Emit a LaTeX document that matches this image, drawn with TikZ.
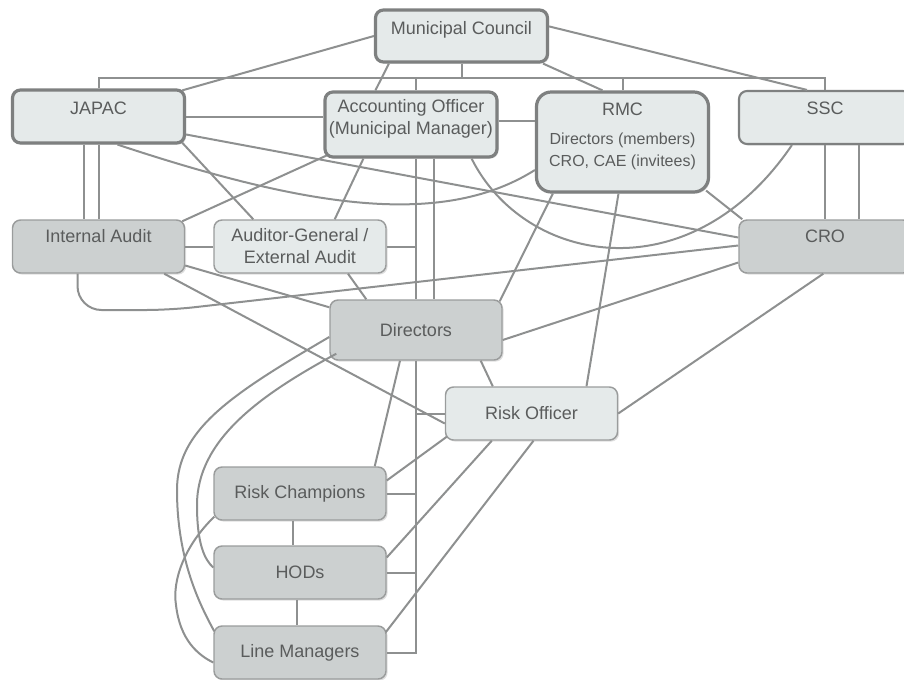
\documentclass[tikz,border=0pt]{standalone}
\usepackage{fontspec}
\setmainfont{Liberation Sans}
\usetikzlibrary{calc,shadows}
\definecolor{boxlight}{HTML}{E5EAEA}
\definecolor{boxdark}{HTML}{CCD0D0}
\definecolor{rimgray}{HTML}{9A9C9C}
\definecolor{heavygray}{HTML}{7E8080}
\definecolor{wiregray}{HTML}{8E9090}
\definecolor{inkgray}{HTML}{5A5C5C}

\begin{document}
\begin{tikzpicture}[x=0.75pt, y=-0.75pt,
    box/.style={draw=rimgray, line width=1.1pt, rounded corners=6pt,
      minimum width=129pt, minimum height=39.75pt, inner sep=2pt,
      text=inkgray, font=\fontsize{13.5}{16.5}\selectfont, align=center,
      drop shadow={shadow xshift=1.2pt, shadow yshift=-1.2pt, opacity=0.25}},
    light/.style={box, fill=boxlight},
    dark/.style={box, fill=boxdark},
    heavy/.style={draw=heavygray, line width=2.4pt},
    lift/.style={text height=10pt, text depth=#1},
    wire/.style={draw=wiregray, line width=1.5pt}]

  \useasboundingbox (0,0) rectangle (904,679);

  \node[light, heavy, lift=12pt, minimum height=39pt] (council) at (461.5,36) {Municipal Council};
  \node[light, heavy, lift=12.8pt] (japac) at (98.5,116.5) {JAPAC};
  \node[light, heavy, minimum height=48.75pt] (officer) at (411,124.5) {Accounting Officer\\(Municipal Manager)\\[-5pt]\mbox{}};
  \node[light, heavy, rounded corners=11pt, minimum height=75pt] (rmc) at (622.5,142)
    {RMC\\[5pt]{\fontsize{12}{14}\selectfont Directors (members)}\\{\fontsize{12}{14}\selectfont CRO, CAE (invitees)}\\[-6pt]\mbox{}};
  \node[light, draw=heavygray, line width=1.6pt, lift=15pt] (ssc) at (825,117.5) {SSC};
  \node[dark, lift=16.5pt] (internal) at (98.5,246.5) {Internal Audit};
  \node[light] (auditor) at (300,246.5) {Auditor-General /\\External Audit};
  \node[dark, lift=16.5pt] (cro) at (825,246.5) {CRO};
  \node[dark, minimum height=45pt] (directors) at (416,330) {Directors};
  \node[light] (riskofficer) at (531.5,413.5) {Risk Officer};
  \node[dark] (champions) at (300,493.5) {Risk Champions};
  \node[dark] (hods) at (300,572.5) {HODs};
  \node[dark] (managers) at (300,652.5) {Line Managers};

  \coordinate (bus) at (0,78);
  \coordinate (auditbend) at (170,310);
  \coordinate (outerbend) at (177,490);
  \coordinate (innerbend) at (197,505);
  \coordinate (lowbend) at (176,605);

  \draw[wire] (council.south) -- (council.south |- bus);
  \draw[wire] (japac.north) |- (ssc.north |- bus) -- (ssc.north);
  \draw[wire] (rmc.north |- bus) -- (rmc.north);
  \draw[wire] (directors.north |- bus) -- (directors.north |- officer.north);
  \draw[wire] (japac.south) -- (internal.north);
  \draw[wire] ($(japac.south)+(-15,0)$) -- ($(internal.north)+(-15,0)$);
  \draw[wire] (ssc.south) -- (cro.north);
  \draw[wire] ($(ssc.south)+(34,0)$) -- ($(cro.north)+(34,0)$);
  \draw[wire] (directors.north |- officer.south) -- (directors.north);
  \draw[wire] ($(directors.north |- officer.south)+(18,0)$) -- ($(directors.north)+(18,0)$);
  \draw[wire] (directors.south) -- (directors.south |- managers.east) -- (managers.east);
  \draw[wire] (auditor.east) -- (auditor.east -| directors.north);
  \draw[wire] (riskofficer.west) -- (riskofficer.west -| directors.south);
  \draw[wire] (champions.east) -- (champions.east -| directors.south);
  \draw[wire] (hods.east) -- (hods.east -| directors.south);

  \draw[wire] (council.west) -- ($(japac.north east)+(-4,2)$);
  \draw[wire] ($(council.north east)+(0,18)$) -- ($(ssc.north)+(-18,0)$);
  \draw[wire] ($(council.south west)+(15,0)$) -- ($(officer.north west)+(52,0)$);
  \draw[wire] ($(council.south east)+(-6,0)$) -- ($(rmc.north)+(-20,0)$);
  \draw[wire] (japac.east) -- (japac.east -| officer.west);
  \draw[wire] ($(officer.east)+(0,-4)$) -- ($(officer.east -| rmc.west)+(0,-4)$);
  \draw[wire] (internal.east) -- (auditor.west);
  \draw[wire] ($(japac.south east)+(-4,-2)$) -- ($(auditor.north west)+(40,0)$);
  \draw[wire] ($(internal.north east)+(-3,2)$) -- ($(officer.south west)+(3,-3)$);
  \draw[wire] ($(officer.south west)+(40,0)$) -- ($(auditor.north east)+(-52,0)$);
  \draw[wire] ($(japac.east)+(0,18)$) -- ($(cro.west)+(0,-9)$);
  \draw[wire] ($(japac.south)+(19,0)$) .. controls (300,205) and (440,230) .. ($(rmc.west)+(0,28)$);
  \draw[wire] ($(officer.south east)+(-27,0)$) .. controls (525,265) and (690,295) .. ($(ssc.south west)+(54,0)$);
  \draw[wire] ($(rmc.south east)+(-4,-3)$) -- ($(cro.north west)+(4,0)$);
  \draw[wire] ($(rmc.south west)+(18,0)$) -- ($(directors.north east)+(-3,2)$);
  \draw[wire] ($(rmc.south)+(-4,0)$) -- ($(riskofficer.north)+(55,0)$);
  \draw[wire, rounded corners=18pt] ($(internal.south)+(-21,0)$) |- (auditbend) -- ($(cro.west)+(0,-1)$);
  \draw[wire] ($(cro.west)+(0,16)$) -- ($(directors.east)+(0,10)$);
  \draw[wire] ($(cro.south west)+(85,0)$) -- (riskofficer.east);
  \draw[wire] ($(internal.south east)+(-21,0)$) -- ($(riskofficer.west)+(0,10)$);
  \draw[wire] ($(internal.east)+(0,19)$) -- ($(directors.north west)+(0,8)$);
  \draw[wire] ($(auditor.south)+(48,0)$) -- ($(directors.north west)+(37,0)$);
  \draw[wire] ($(directors.south)+(-16,0)$) -- ($(champions.north east)+(-12,0)$);
  \draw[wire] ($(directors.south east)+(-22,0)$) -- ($(riskofficer.north west)+(48,0)$);
  \draw[wire] ($(riskofficer.south west)+(2,-4)$) -- ($(champions.east)+(0,-13)$);
  \draw[wire] ($(riskofficer.south west)+(47,0)$) -- ($(hods.east)+(0,-15)$);
  \draw[wire] ($(riskofficer.south)+(2,0)$) -- ($(managers.north east)+(-1,7)$);
  \draw[wire] ($(champions.south)+(-7,0)$) -- ($(hods.north)+(-7,0)$);
  \draw[wire] ($(hods.south)+(-3,0)$) -- ($(managers.north)+(-3,0)$);

  \draw[wire] ($(directors.west)+(0,7)$) .. controls (230,395) and (177,430) .. (outerbend)
    .. controls (177,560) and (200,605) .. ($(managers.north west)+(1,6)$);
  \draw[wire] ($(directors.south west)+(7,-7)$) .. controls (260,395) and (197,440) .. (innerbend)
    .. controls (197,545) and (205,560) .. ($(hods.west)+(0,-5)$);
  \draw[wire] ($(champions.south west)+(1,-4)$) .. controls (185,545) and (172,580) .. (lowbend)
    .. controls (180,640) and (198,655) .. ($(managers.west)+(0,10)$);
\end{tikzpicture}
\end{document}
